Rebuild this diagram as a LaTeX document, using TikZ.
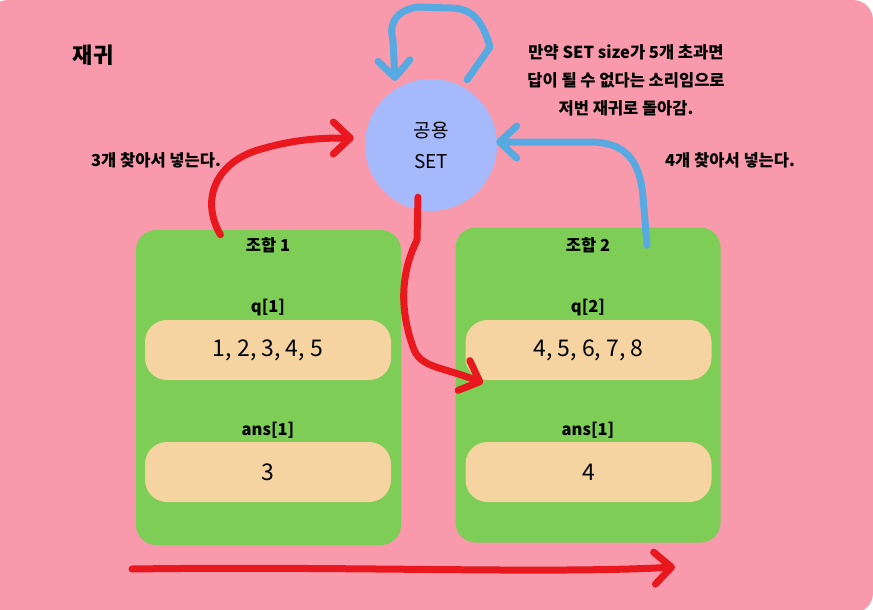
\documentclass[tikz,border=0pt]{standalone}
\usepackage{fontspec}
\setmainfont{Noto Sans CJK KR}
\usetikzlibrary{arrows.meta}

\definecolor{bgpink}{HTML}{F99AAC}
\definecolor{combogreen}{HTML}{7ECD56}
\definecolor{slotcream}{HTML}{F6D4A1}
\definecolor{setblue}{HTML}{A5B9FB}
\definecolor{penblue}{HTML}{57A9E2}
\definecolor{penred}{HTML}{E8181E}

\tikzset{
    combo/.style={fill=combogreen, rounded corners=20pt, minimum width=265pt, minimum height=315pt, inner sep=0pt},
    slot/.style={fill=slotcream, rounded corners=22pt, minimum width=246pt, minimum height=60pt, inner sep=0pt, font=\fontsize{23}{27}\selectfont},
    tag/.style={inner sep=0pt, font=\bfseries\fontsize{16.5}{19}\selectfont},
    note/.style={inner sep=0pt, align=center, font=\bfseries\fontsize{16.5}{28}\selectfont},
    redpen/.style={draw=penred, line width=7pt, line cap=round, line join=round, -{Straight Barb[length=17pt, width=32pt, round]}},
    bluepen/.style={draw=penblue, line width=7pt, line cap=round, line join=round, -{Straight Barb[length=17pt, width=32pt, round]}}
}

\begin{document}
\begin{tikzpicture}[x=1pt, y=-1pt]
    \useasboundingbox (0, 0) rectangle (873, 610);
    \fill [bgpink, rounded corners=20pt] (-12, 0) rectangle (873, 613);
    \node [tag, font=\bfseries\fontsize{22}{26}\selectfont] (title) at (93, 55) {재귀};
    % shared set
    \node [circle, fill=setblue, minimum size=132pt, inner sep=0pt, align=center,
           font=\fontsize{19}{31}\selectfont] (set) at (431, 145) {공용\\SET};
    \node [note] (sizenote) at (626, 80) {만약 SET size가 5개 초과면\\답이 될 수 없다는 소리임으로\\저번 재귀로 돌아감.};
    \node [note] (find3) at (156, 160) {3개 찾아서 넣는다.};
    \node [note] (find4) at (730, 160) {4개 찾아서 넣는다.};
    % combination 1
    \node [combo] (combo1) at (268.5, 387.5) {};
    \node [tag] (head1) at (268, 245) {조합 1};
    \node [tag] (qlabel1) at (268, 308) {q[1]};
    \node [slot] (q1) at (268, 350) {1, 2, 3, 4, 5};
    \node [tag] (anslabel1) at (268, 430) {ans[1]};
    \node [slot] (ans1) at (268, 472) {3};
    % combination 2
    \node [combo] (combo2) at (588, 385) {};
    \node [tag] (head2) at (588, 245) {조합 2};
    \node [tag] (qlabel2) at (588, 308) {q[2]};
    \node [slot] (q2) at (588.5, 350) {4, 5, 6, 7, 8};
    \node [tag] (anslabel2) at (588, 430) {ans[1]};
    \node [slot] (ans2) at (588.5, 472) {4};
    % hand drawn strokes
    \coordinate (into2) at (483, 383);
    \coordinate (flowstart) at (132, 569);
    \coordinate (flowend) at (675, 567);
    \draw [redpen] ([shift={(-48, 5)}]combo1.north) .. controls (200, 200) and (215, 160) .. (265, 148)
        .. controls (300, 138) and (330, 138) .. ([shift={(-11, -7)}]set.west);
    \draw [redpen] ([shift={(-13, -14)}]set.south) -- (417, 240) .. controls (400, 275) and (400, 310) .. (413, 347)
        .. controls (420, 368) and (440, 366) .. (into2);
    \draw [bluepen] ([shift={(59, 18)}]combo2.north) -- (643, 197) .. controls (640, 160) and (625, 142) .. (590, 142)
        -- ([shift={(-1, -3)}]set.east);
    \draw [bluepen] ([shift={(3, -8)}]set.60) -- (490, 47) .. controls (482, 18) and (470, 8) .. (450, 8)
        -- (417, 7) .. controls (390, 12) and (390, 30) .. (393, 40) -- ([shift={(-36, -64)}]set.center);
    \draw [redpen] (flowstart) .. controls (350, 566) and (550, 574) .. (flowend);
\end{tikzpicture}
\end{document}
